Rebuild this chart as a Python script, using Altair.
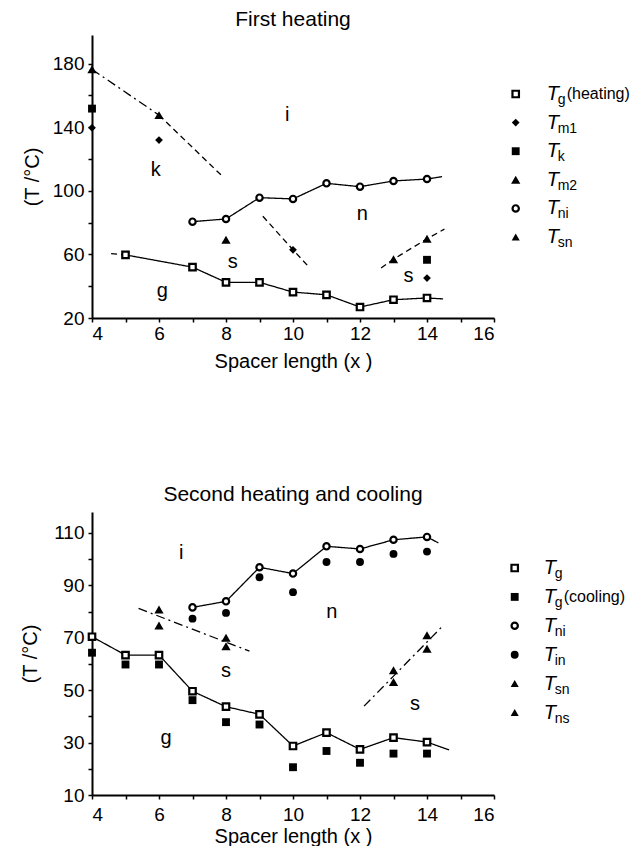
import altair as alt
import pandas as pd

FONT = "Liberation Sans"

# ---------- First heating ----------
h_tg_x = [5, 7, 8, 9, 10, 11, 12, 13, 14]
h_tg_y = [59.7, 52.0, 42.4, 42.4, 36.3, 34.6, 26.9, 31.5, 32.6]
h_tm1_x = [4, 6, 10, 14]
h_tm1_y = [139.6, 131.9, 62.9, 45.1]
h_tk_x = [4, 14]
h_tk_y = [151.7, 56.6]
h_tm2_x = [4, 6, 8]
h_tm2_y = [176.4, 147.6, 69.2]
h_tni_x = [7, 8, 9, 10, 11, 12, 13, 14]
h_tni_y = [80.6, 82.3, 95.7, 94.9, 104.7, 102.6, 106.2, 107.4]
h_tsn_x = [13, 14]
h_tsn_y = [57.0, 69.8]

# phase boundaries and guide lines: (segment id, style, x list, y list)
h_lines = [
    ("tg_lead", "dash", [4.57, 5], [60.5, 59.7]),
    ("tg", "solid", h_tg_x + [14.48], h_tg_y + [32.0]),
    ("tni", "solid", h_tni_x + [14.45], h_tni_y + [108.9]),
    ("ki_a", "dashdot", [4, 6], [176.4, 147.6]),
    ("ki_b", "dash", [6, 7.9], [147.6, 109.0]),
    ("sn", "dash", [9.1, 10, 10.5], [84.0, 62.9, 51.5]),
    ("tsn", "dash", [12.63, 13, 14, 14.52], [51.4, 57.0, 69.8, 75.9]),
]
h_reg_lab = ["i", "k", "n", "s", "s", "g"]
h_reg_x = [9.83, 5.9, 12.07, 8.2, 13.45, 6.1]
h_reg_y = [147.6, 113.0, 85.7, 55.0, 46.6, 36.7]

# ---------- Second heating and cooling ----------
c_tg_x = [4, 5, 6, 7, 8, 9, 10, 11, 12, 13, 14]
c_tg_y = [70.4, 63.4, 63.4, 49.6, 43.7, 40.8, 28.7, 33.8, 27.4, 31.9, 30.2]
c_tgc_y = [64.3, 59.8, 59.8, 46.2, 37.8, 36.9, 20.6, 26.8, 22.3, 25.8, 25.8]
c_tni_x = [7, 8, 9, 10, 11, 12, 13, 14]
c_tni_y = [81.6, 83.9, 96.9, 94.5, 104.9, 103.9, 107.4, 108.5]
c_tin_y = [77.3, 79.5, 93.1, 87.4, 98.9, 98.9, 102.0, 102.9]
c_ts_x = [6, 8, 13, 14]
c_tsn_y = [80.8, 70.0, 57.6, 71.0]
c_tns_y = [74.7, 66.8, 53.1, 65.8]

c_lines = [
    ("tg", "solid", c_tg_x + [14.66], c_tg_y + [27.2]),
    ("tni", "solid", c_tni_x + [14.34], c_tni_y + [106.2]),
    ("s_left", "dashdot", [5.39, 8.7], [81.2, 64.9]),
    ("s_right", "dashdot", [12.12, 13, 14, 14.46], [43.9, 55.35, 68.4, 74.4]),
]
c_reg_lab = ["i", "n", "s", "s", "g"]
c_reg_x = [6.66, 11.16, 8.0, 13.64, 6.21]
c_reg_y = [102.4, 79.7, 57.3, 44.6, 31.9]

# legend entries: (marker style, subscript, suffix)
h_legend = [("open_square", "g", "(heating)"), ("diamond", "m1", ""),
            ("filled_square", "k", ""), ("triangle", "m2", ""),
            ("open_circle", "ni", ""), ("triangle_small", "sn", "")]
c_legend = [("open_square", "g", ""), ("filled_square", "g", "(cooling)"),
            ("open_circle", "ni", ""), ("filled_circle", "in", ""),
            ("triangle_small", "sn", ""), ("triangle_small", "ns", "")]

PLOT_W, PLOT_H = 402, 283

MARKS = {
    "open_square": dict(shape="square", filled=True, fill="white", stroke="black", strokeWidth=2.2, size=42),
    "filled_square": dict(shape="square", filled=True, color="black", size=62),
    "open_circle": dict(shape="circle", filled=True, fill="white", stroke="black", strokeWidth=2.2, size=40),
    "filled_circle": dict(shape="circle", filled=True, color="black", size=62),
    "diamond": dict(shape="diamond", filled=True, color="black", size=60),
    "triangle": dict(shape="triangle-up", filled=True, color="black", size=85),
    "triangle_small": dict(shape="triangle-up", filled=True, color="black", size=65),
}


def line_frame(lines):
    rows = []
    for seg, style, xs, ys in lines:
        for k, (x, y) in enumerate(zip(xs, ys)):
            rows.append({"seg": seg, "style": style, "x": x, "y": y, "ord": k})
    return pd.DataFrame(rows)


def panel(title, title_offset, series, lines, regions, ydomain, ystep, ylabel_mod, ylabel_rem,
          ytitle_pad, xlabel_pad, xtitle_pad):
    xenc = alt.X("x:Q", scale=alt.Scale(domain=[4, 16], nice=False, zero=False),
                 axis=alt.Axis(values=list(range(4, 17)), title="Spacer length (x )",
                               labelPadding=xlabel_pad, titlePadding=xtitle_pad,
                               labelExpr="datum.value % 2 == 0 ? datum.label : ''"))
    yvals = list(range(ydomain[0], int(ydomain[1]) + 1, ystep))
    yenc = alt.Y("y:Q", scale=alt.Scale(domain=ydomain, nice=False, zero=False),
                 axis=alt.Axis(values=yvals, title="(T /°C)", titlePadding=ytitle_pad,
                               labelExpr=f"datum.value % {ylabel_mod} == {ylabel_rem} ? datum.label : ''"))

    layers = []
    ldf = line_frame(lines)
    layers.append(
        alt.Chart(ldf).mark_line(color="black", strokeWidth=1.3).encode(
            x=xenc, y=yenc, detail="seg:N", order="ord:Q",
            strokeDash=alt.StrokeDash("style:N", legend=None,
                                      scale=alt.Scale(domain=["solid", "dash", "dashdot"],
                                                      range=[[1, 0], [6, 4], [9, 4, 2, 4]])))
    )
    for style, xs, ys in series:
        df = pd.DataFrame({"x": xs, "y": ys})
        layers.append(alt.Chart(df).mark_point(opacity=1, **MARKS[style]).encode(x=xenc, y=yenc))
    lab, rx, ry = regions
    rdf = pd.DataFrame({"x": rx, "y": ry, "label": lab})
    layers.append(alt.Chart(rdf).mark_text(font=FONT, fontSize=20, color="black").encode(
        x=xenc, y=yenc, text="label:N"))
    return alt.layer(*layers).properties(
        width=PLOT_W, height=PLOT_H,
        title=alt.TitleParams(title, fontSize=21, font=FONT, fontWeight="normal", offset=title_offset))


def legend_panel(entries, first_row_px, row_gap, title_offset, marker_px, text_px, width):
    df = pd.DataFrame({
        "row": list(range(len(entries))),
        "style": [e[0] for e in entries],
        "sub": [e[1] for e in entries],
        "suffix": [e[2] for e in entries],
        "mx": 0.0, "tx": 1.0, "T": "T",
    })
    lo = -first_row_px / row_gap
    hi = (PLOT_H - first_row_px) / row_gap
    yenc = alt.Y("row:Q", scale=alt.Scale(domain=[lo, hi], reverse=True, nice=False, zero=False), axis=None)
    unit = text_px - marker_px
    xs = alt.Scale(domain=[-marker_px / unit, (width - marker_px) / unit], nice=False, zero=False)
    layers = []
    for style in dict.fromkeys(df["style"]):
        sub = df[df["style"] == style]
        layers.append(alt.Chart(sub).mark_point(opacity=1, **MARKS[style]).encode(
            x=alt.X("mx:Q", scale=xs, axis=None), y=yenc))
    layers.append(alt.Chart(df).mark_text(font=FONT, fontSize=20, fontStyle="italic", align="left",
                                          baseline="middle", color="black").encode(
        x=alt.X("tx:Q", scale=xs, axis=None), y=yenc, text="T:N"))
    layers.append(alt.Chart(df).mark_text(font=FONT, fontSize=14, align="left", baseline="middle",
                                          dx=11, dy=6, color="black").encode(
        x=alt.X("tx:Q", scale=xs, axis=None), y=yenc, text="sub:N"))
    layers.append(alt.Chart(df).mark_text(font=FONT, fontSize=16, align="left", baseline="middle",
                                          dx=20, color="black").encode(
        x=alt.X("tx:Q", scale=xs, axis=None), y=yenc, text="suffix:N"))
    return alt.layer(*layers).properties(
        width=width, height=PLOT_H,
        title=alt.TitleParams(" ", fontSize=21, font=FONT, offset=title_offset))


top_plot = panel(
    "First heating", 5,
    [("open_square", h_tg_x, h_tg_y), ("diamond", h_tm1_x, h_tm1_y),
     ("filled_square", h_tk_x, h_tk_y), ("triangle", h_tm2_x, h_tm2_y),
     ("open_circle", h_tni_x, h_tni_y), ("triangle", h_tsn_x, h_tsn_y)],
    h_lines, (h_reg_lab, h_reg_x, h_reg_y), [20, 198], 20, 40, 20, 10, 2, 8)

bottom_plot = panel(
    "Second heating and cooling", 7,
    [("filled_square", c_tg_x, c_tgc_y), ("open_square", c_tg_x, c_tg_y),
     ("filled_circle", c_tni_x, c_tin_y), ("open_circle", c_tni_x, c_tni_y),
     ("triangle", c_ts_x, c_tsn_y), ("triangle", c_ts_x, c_tns_y)],
    c_lines, (c_reg_lab, c_reg_x, c_reg_y), [10, 118], 10, 20, 10, 13, 6, 2)

top = alt.hconcat(top_plot, legend_panel(h_legend, 59, 28.6, 5, 20.7, 51.7, 130), spacing=0)
bottom = alt.hconcat(bottom_plot, legend_panel(c_legend, 56, 28.9, 7, 19.7, 48.7, 126), spacing=0)

chart = alt.vconcat(top, bottom, spacing=113).properties(
    padding={"left": 20, "top": 9, "right": 0, "bottom": 0}
).configure_view(stroke=None).configure_axis(
    labelFont=FONT, labelFontSize=19, labelColor="black",
    titleFont=FONT, titleFontSize=20, titleFontWeight="normal", titleColor="black",
    domainColor="black", domainWidth=2, tickColor="black", tickWidth=1.5, tickSize=4,
    grid=False,
).configure_axisY(labelPadding=4)

chart.save("out.html", embed_options={"renderer": "svg", "actions": False})
